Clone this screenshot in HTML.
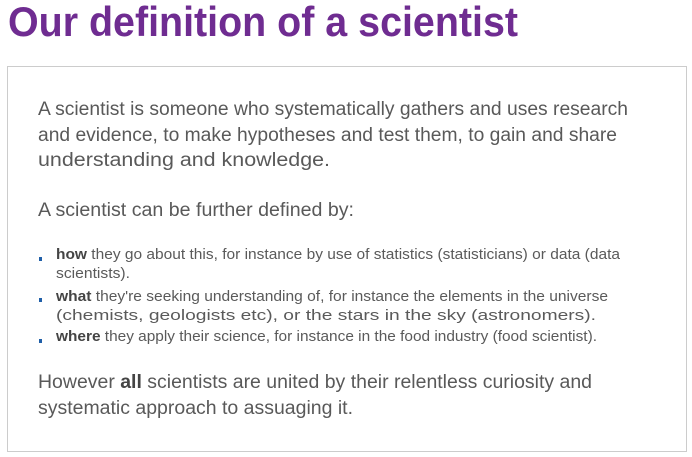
<!DOCTYPE html>
<html><head><meta charset="utf-8"><style>
body{margin:0;width:692px;height:457px;background:#fff;position:relative;overflow:hidden;font-family:"Liberation Sans",sans-serif;}
.l{position:absolute;white-space:nowrap;transform-origin:0 50%;line-height:1;}
.t{color:#6f2c91;font-weight:bold;font-size:42px;}
.p{color:#595959;font-size:19px;}
.b{color:#5a5a5a;font-size:15px;}
.b b{color:#444;}
.p b{color:#444;}
.dot{position:absolute;width:3px;height:4px;background:#1f5fa8;}
#box{position:absolute;left:7px;top:66px;width:678px;height:384px;border:1px solid #ccc;}
</style></head><body>
<div class="l t" data-w="510" style="left:8px;top:1px">Our definition of a scientist</div>
<div id="box"></div>
<div class="l p" data-w="590" style="left:38px;top:100px">A scientist is someone who systematically gathers and uses research</div>
<div class="l p" data-w="579" style="left:38px;top:126px">and evidence, to make hypotheses and test them, to gain and share</div>
<div class="l p" data-w="292" style="left:38px;top:151px">understanding and knowledge.</div>
<div class="l p" data-w="316" style="left:38px;top:201px">A scientist can be further defined by:</div>
<div class="dot" style="left:39px;top:257px"></div>
<div class="l b" data-w="564" style="left:56px;top:247px"><b>how</b> they go about this, for instance by use of statistics (statisticians) or data (data</div>
<div class="l b" data-w="74" style="left:56px;top:266px">scientists).</div>
<div class="dot" style="left:39px;top:298px"></div>
<div class="l b" data-w="552" style="left:56px;top:289px"><b>what</b> they're seeking understanding of, for instance the elements in the universe</div>
<div class="l b" data-w="540" style="left:56px;top:308px">(chemists, geologists etc), or the stars in the sky (astronomers).</div>
<div class="dot" style="left:39px;top:339px"></div>
<div class="l b" data-w="541" style="left:56px;top:329px"><b>where</b> they apply their science, for instance in the food industry (food scientist).</div>
<div class="l p" data-w="554" style="left:38px;top:373px">However <b>all</b> scientists are united by their relentless curiosity and</div>
<div class="l p" data-w="315" style="left:38px;top:399px">systematic approach to assuaging it.</div>
<script>
document.querySelectorAll('.l').forEach(function(e){
  var w=+e.getAttribute('data-w');var a=e.getBoundingClientRect().width;
  if(a>0)e.style.transform='scaleX('+(w/a)+')';
});
</script>
</body></html>
